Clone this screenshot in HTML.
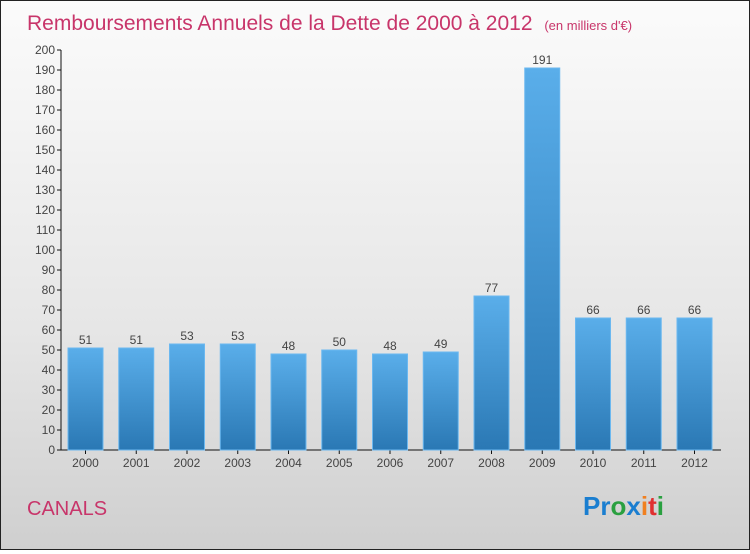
<!DOCTYPE html>
<html><head><meta charset="utf-8"><style>
html,body{margin:0;padding:0}
body{width:750px;height:550px;overflow:hidden;font-family:"Liberation Sans",sans-serif}
#wrap{position:absolute;left:0;top:0;width:748px;height:548px;border:1px solid #222;background:linear-gradient(#fbfbfb,#e6e6e6 60%,#cfcfcf)}
</style></head><body>
<div id="wrap">
<svg width="748" height="548" xmlns="http://www.w3.org/2000/svg">
<defs><linearGradient id="bg" x1="0" y1="0" x2="0" y2="1"><stop offset="0" stop-color="#5aaeea"/><stop offset="1" stop-color="#2a78b4"/></linearGradient></defs>
<text x="26" y="29" font-size="21" fill="#c8356a">Remboursements Annuels de la Dette de 2000 à 2012 <tspan font-size="13" dx="6">(en milliers d'€)</tspan></text>
<g id="axes"></g><g id="bars"></g>
<text x="26" y="514" font-size="20" fill="#c8356a">CANALS</text>
<text x="582" y="514" font-size="26" font-weight="bold"><tspan fill="#1a7ed0">Pr</tspan><tspan fill="#2aa040">o</tspan><tspan fill="#1a7ed0">x</tspan><tspan fill="#f08020">i</tspan><tspan fill="#e03030">t</tspan><tspan fill="#2aa040">i</tspan></text>
</svg></div>
<script>
const categories=["2000","2001","2002","2003","2004","2005","2006","2007","2008","2009","2010","2011","2012"];
const values=[51,51,53,53,48,50,48,49,77,191,66,66,66];
const yTicks=[0,10,20,30,40,50,60,70,80,90,100,110,120,130,140,150,160,170,180,190,200];
const NS="http://www.w3.org/2000/svg";
const y=v=>449-v*2;
const x=i=>67+i*50.75;
function mk(t,a,p){const e=document.createElementNS(NS,t);for(const k in a)e.setAttribute(k,a[k]);p.appendChild(e);return e;}
const ax=document.getElementById('axes'),bs=document.getElementById('bars');
let l=mk('line',{x1:60,y1:y(200),x2:60,y2:449,stroke:'#111'},ax);


l=mk('line',{x1:60,y1:449,x2:720,y2:449,stroke:'#111'},ax);


yTicks.forEach(v=>{
 mk('line',{x1:56,y1:y(v),x2:60,y2:y(v),stroke:'#111'},ax);
 const t=mk('text',{x:54,y:y(v)+4,'text-anchor':'end','font-size':12,fill:'#444'},ax);
 t.textContent=v;
 
 
});
categories.forEach((c,i)=>{
 const r=mk('rect',{x:x(i),y:y(values[i]),width:35,height:449-y(values[i]),fill:'url(#bg)',stroke:'#6bb8f0','stroke-width':1},bs);
 
 
 const v=mk('text',{x:x(i)+17.5,y:y(values[i])-4,'text-anchor':'middle','font-size':12,fill:'#444'},bs);
 v.textContent=values[i];
 
 
 mk('line',{x1:x(i)+17.5,y1:449,x2:x(i)+17.5,y2:453,stroke:'#111'},ax);
 const t=mk('text',{x:x(i)+17.5,y:466,'text-anchor':'middle','font-size':12,fill:'#444'},ax);
 t.textContent=c;
 
 
});
</script>
</body></html>
